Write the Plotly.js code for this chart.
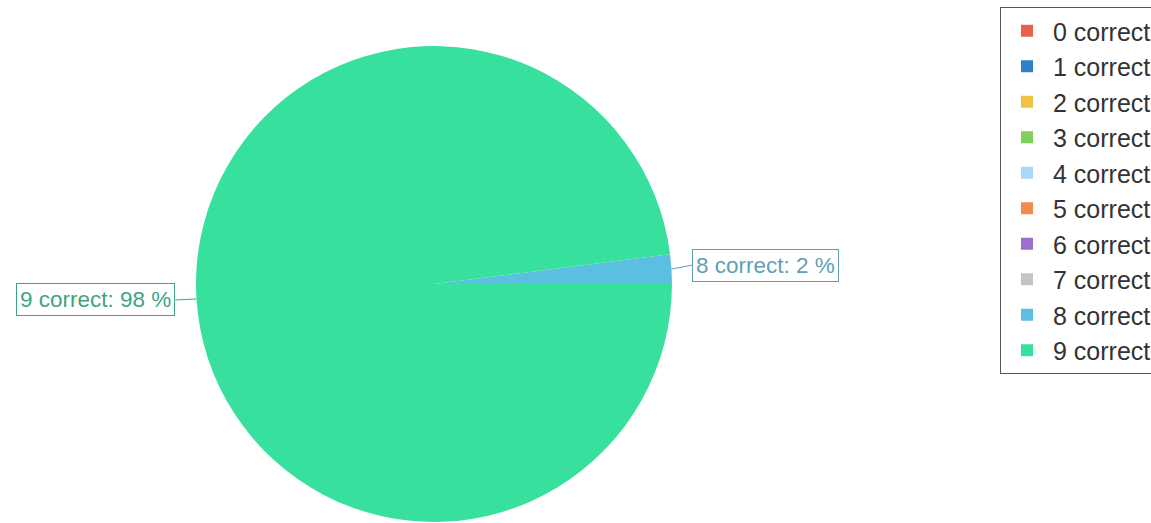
<!DOCTYPE html>
<html>
<head>
<meta charset="utf-8">
<script src="https://cdn.plot.ly/plotly-3.0.1.min.js"></script>
<style>
  html, body { margin: 0; padding: 0; background: #ffffff; }
  #chart { width: 1151px; height: 523px; }
</style>
</head>
<body>
<div id="chart"></div>
<script>
// ---- data ----
const categories = ['0 correct', '1 correct', '2 correct', '3 correct', '4 correct',
                    '5 correct', '6 correct', '7 correct', '8 correct', '9 correct'];
const shares = [0, 0, 0, 0, 0, 0, 0, 0, 2, 98];
const sliceColors = ['#e8604c', '#2f80c8', '#f0c244', '#7fd05c', '#a9d9f7',
                     '#f18a4b', '#9a70cc', '#c4c4c4', '#5bbfe2', '#38e09d'];
const labelColors = ['#c05040', '#2f70b0', '#b09030', '#60a048', '#80a8c8',
                     '#c07040', '#8060b0', '#909090', '#5f9fb4', '#3fa382'];

// ---- layout geometry ----
const W = 1151, H = 523;
const domX = [0.1703, 0.5838];
const domY = [0.0019, 0.9120];
const cx = (domX[0] + domX[1]) / 2 * W;
const cy = (1 - (domY[0] + domY[1]) / 2) * H;
const R = Math.min((domX[1] - domX[0]) * W, (domY[1] - domY[0]) * H) / 2;

const total = shares.reduce((a, b) => a + b, 0);
const annotations = [];
let cum = 0;
shares.forEach((v, i) => {
  if (v > 0) {
    const mid = (cum + v / 2) / total * 2 * Math.PI; // CCW from 3 o'clock
    const px = cx + R * Math.cos(mid);
    const py = cy - R * Math.sin(mid);
    const right = Math.cos(mid) >= 0;
    annotations.push({
      xref: 'paper', yref: 'paper',
      x: px / W, y: 1 - py / H,
      text: categories[i] + ': ' + v + ' %',
      showarrow: true, arrowhead: 0, arrowwidth: 1, standoff: 0,
      arrowcolor: labelColors[i],
      ax: right ? 21 : -21, ay: right ? -4 : 1,
      xanchor: right ? 'left' : 'right',
      font: { family: 'Liberation Sans, Arial, sans-serif', size: 22.5, color: labelColors[i] },
      bgcolor: '#ffffff', bordercolor: labelColors[i], borderwidth: 1, borderpad: 3
    });
  }
  cum += v;
});

const trace = {
  type: 'pie',
  labels: categories,
  values: shares,
  sort: false,
  direction: 'counterclockwise',
  rotation: 90,
  marker: { colors: sliceColors, line: { width: 0 } },
  textinfo: 'none',
  hoverinfo: 'label+percent',
  domain: { x: domX, y: domY },
  showlegend: true
};

const layout = {
  width: W, height: H,
  margin: { l: 0, r: 0, t: 0, b: 0, autoexpand: false },
  paper_bgcolor: '#ffffff',
  plot_bgcolor: '#ffffff',
  showlegend: true,
  legend: {
    xref: 'container', yref: 'container',
    x: 1000 / W, y: 1 - 7 / H,
    xanchor: 'left', yanchor: 'top',
    bgcolor: '#ffffff', bordercolor: '#555555', borderwidth: 1,
    font: { family: 'Liberation Sans, Arial, sans-serif', size: 25, color: '#333333' },
    itemwidth: 42,
    maxheight: 500,
    traceorder: 'normal'
  },
  annotations: annotations
};

Plotly.newPlot('chart', [trace], layout, { displayModeBar: false, staticPlot: true });
</script>
</body>
</html>
